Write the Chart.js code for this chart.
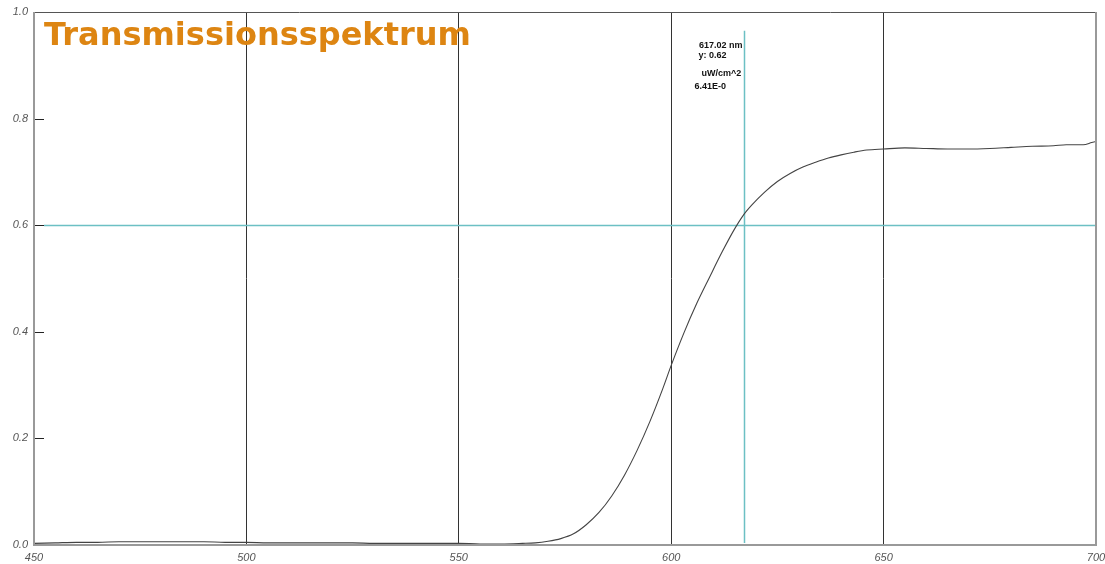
<!DOCTYPE html>
<html>
<head>
<meta charset="utf-8">
<script src="https://cdn.jsdelivr.net/npm/chart.js@4.4.1/dist/chart.umd.min.js"></script>
<style>
  html, body { margin: 0; padding: 0; background: #fff; }
  #wrap { width: 1105px; height: 564px; }
</style>
</head>
<body>
<div id="wrap"><canvas id="spectrumChart"></canvas></div>
<script>
// wavelength in nm
const wavelengths = [450, 455, 460, 465, 470, 475, 480, 485, 490, 495, 500, 505, 510, 515, 520, 525, 530, 535, 540, 545,
  550, 555, 560, 565, 568, 571, 574, 577, 580, 583, 586, 589, 592, 595, 598, 600, 603, 606, 609, 612, 615, 617, 619,
  622, 625, 628, 631, 634, 637, 640, 643, 646, 650, 655, 660, 665, 670, 675, 680, 685, 690, 693, 695, 697, 699, 700];
const transmission = [0.003, 0.004, 0.005, 0.005, 0.006, 0.006, 0.006, 0.006, 0.006, 0.005, 0.005, 0.004, 0.004, 0.004,
  0.004, 0.004, 0.003, 0.003, 0.003, 0.003, 0.003, 0.002, 0.002, 0.003, 0.004, 0.007, 0.012, 0.021, 0.038, 0.061,
  0.092, 0.131, 0.178, 0.232, 0.293, 0.337, 0.398, 0.453, 0.502, 0.550, 0.594, 0.619, 0.638, 0.662, 0.682, 0.697,
  0.709, 0.718, 0.726, 0.732, 0.737, 0.741, 0.743, 0.745, 0.744, 0.743, 0.743, 0.744, 0.746, 0.748, 0.749, 0.751,
  0.751, 0.751, 0.755, 0.757];
const xTicks = [450, 500, 550, 600, 650, 700];
const yTicks = [0.0, 0.2, 0.4, 0.6, 0.8, 1.0];

const cursorX = 617.02;
const levelY = 0.6;
const cursorLines = ['617.02 nm', 'y: 0.62', 'uW/cm^2', '6.41E-0'];
const titleText = 'Transmissionsspektrum';

const overlay = {
    id: 'overlay',
    beforeDatasetsDraw(chart) {
        const { ctx, chartArea: a, scales: { x, y } } = chart;
        ctx.save();
        // inner tick marks on the left axis
        ctx.strokeStyle = '#222';
        ctx.lineWidth = 1;
        yTicks.forEach(v => {
            const py = Math.round(y.getPixelForValue(v)) + 0.5;
            ctx.beginPath();
            ctx.moveTo(a.left, py);
            ctx.lineTo(a.left + 10, py);
            ctx.stroke();
        });
        // cyan cursor lines
        ctx.strokeStyle = '#6cc0c4';
        ctx.lineWidth = 1.5;
        const py = Math.round(y.getPixelForValue(levelY)) + 0.5;
        ctx.beginPath();
        ctx.moveTo(a.left + 10, py);
        ctx.lineTo(a.right, py);
        ctx.stroke();
        const px = Math.round(x.getPixelForValue(cursorX)) + 0.5;
        ctx.beginPath();
        ctx.moveTo(px, y.getPixelForValue(0.965));
        ctx.lineTo(px, a.bottom - 2);
        ctx.stroke();
        ctx.restore();
    },
    afterDraw(chart) {
        const { ctx, chartArea: a, scales: { x } } = chart;
        ctx.save();
        // frame
        ctx.strokeStyle = '#555';
        ctx.lineWidth = 1;
        ctx.beginPath();
        ctx.moveTo(a.left, a.top + 0.5);
        ctx.lineTo(a.right, a.top + 0.5);
        ctx.stroke();
        ctx.strokeStyle = '#999';
        ctx.lineWidth = 2;
        ctx.beginPath();
        ctx.moveTo(a.left, a.top);
        ctx.lineTo(a.left, a.bottom);
        ctx.lineTo(a.right, a.bottom);
        ctx.lineTo(a.right, a.top);
        ctx.stroke();
        // title
        ctx.fillStyle = '#dd8512';
        ctx.font = 'bold 32px "DejaVu Sans"';
        ctx.textBaseline = 'alphabetic';
        ctx.fillText(titleText, a.left + 10, a.top + 33);
        // cursor readout
        const px = x.getPixelForValue(cursorX);
        ctx.fillStyle = '#111';
        ctx.font = 'bold 9px "Liberation Sans"';
        ctx.textAlign = 'right';
        ctx.fillText(cursorLines[0], px - 1, a.top + 36);
        ctx.textAlign = 'left';
        ctx.fillText(cursorLines[1], px - 45, a.top + 46);
        ctx.fillText(cursorLines[2], px - 42, a.top + 64);
        ctx.fillText(cursorLines[3], px - 49, a.top + 77);
        ctx.restore();
    }
};

new Chart(document.getElementById('spectrumChart'), {
    type: 'line',
    data: {
        datasets: [{
            label: 'Transmission',
            data: wavelengths.map((w, i) => ({ x: w, y: transmission[i] })),
            borderColor: '#444',
            borderWidth: 1.1,
            pointRadius: 0,
            cubicInterpolationMode: 'monotone',
            fill: false
        }]
    },
    options: {
        responsive: true,
        maintainAspectRatio: false,
        animation: false,
        layout: { padding: { top: 12, right: 9, left: 0, bottom: 0 } },
        plugins: { legend: { display: false }, tooltip: { enabled: false } },
        scales: {
            x: {
                type: 'linear',
                min: 450,
                max: 700,
                afterBuildTicks: s => { s.ticks = xTicks.map(v => ({ value: v })); },
                afterFit: s => { s.height = 19; s.paddingLeft = 0; s.paddingRight = 0; },
                grid: {
                    color: c => (c.tick && (c.tick.value === 450 || c.tick.value === 700)) ? 'transparent' : '#333',
                    lineWidth: 1,
                    drawTicks: false
                },
                border: { display: false },
                ticks: {
                    padding: 6,
                    color: '#555',
                    font: { family: '"Liberation Sans"', size: 11, style: 'italic' },
                    callback: v => String(v)
                }
            },
            y: {
                min: 0,
                max: 1,
                afterBuildTicks: s => { s.ticks = yTicks.map(v => ({ value: v })); },
                afterFit: s => { s.width = 34; s.paddingTop = 0; s.paddingBottom = 0; },
                grid: { display: false, drawTicks: false },
                border: { display: false },
                ticks: {
                    padding: 6,
                    color: '#555',
                    font: { family: '"Liberation Sans"', size: 11, style: 'italic' },
                    callback: v => v.toFixed(1)
                }
            }
        }
    },
    plugins: [overlay]
});
</script>
</body>
</html>
